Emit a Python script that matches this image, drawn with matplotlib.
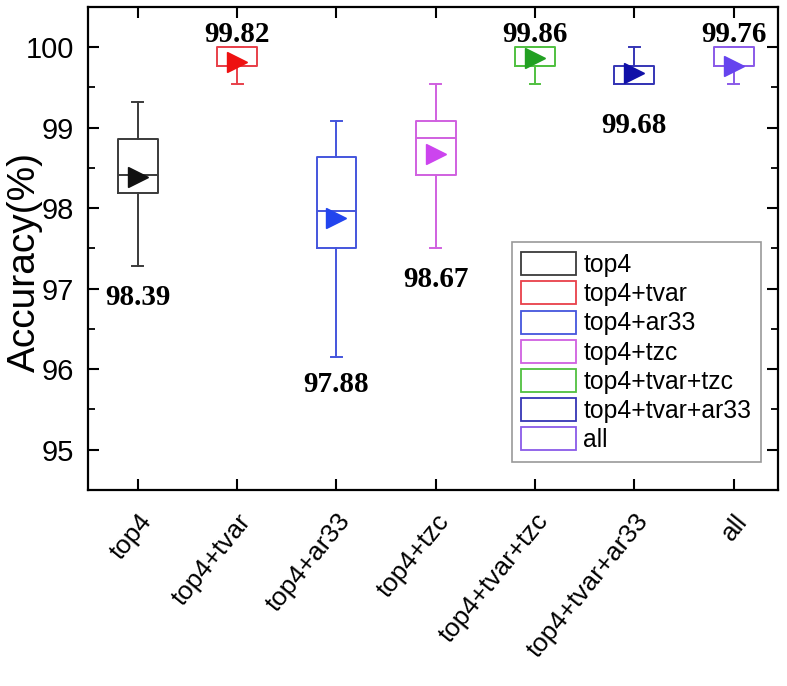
import matplotlib
matplotlib.use("Agg")
import matplotlib.pyplot as plt
from matplotlib.patches import Patch
from matplotlib.ticker import MultipleLocator

# feature sets and box statistics (accuracy, %)
groups = ["top4", "top4+tvar", "top4+ar33", "top4+tzc",
          "top4+tvar+tzc", "top4+tvar+ar33", "all"]
whisker_hi = [99.32, 100.00, 99.08, 99.54, 100.00, 100.00, 100.00]
box_q3 = [98.86, 100.00, 98.63, 99.08, 100.00, 99.77, 100.00]
medians = [98.41, 99.77, 97.96, 98.87, 99.77, 99.54, 99.77]
box_q1 = [98.19, 99.77, 97.50, 98.41, 99.77, 99.54, 99.77]
whisker_lo = [97.28, 99.54, 96.15, 97.50, 99.54, 99.54, 99.54]
means = [98.39, 99.82, 97.88, 98.67, 99.86, 99.68, 99.76]
label_side = ["below", "above", "below", "below", "above", "below", "above"]

edge_colors = ["#3a3a3a", "#e8404a", "#4455dd", "#d060e0", "#50c040", "#3535b5", "#8a5ae8"]
mean_colors = ["#111111", "#ee1111", "#2244ee", "#cc44ee", "#22a022", "#1010a8", "#6644ee"]

plt.rcParams["font.family"] = ["Liberation Sans", "DejaVu Sans"]

fig = plt.figure(figsize=(7.87, 6.86), dpi=100)
ax = fig.add_axes([0.112, 0.286, 0.877, 0.704])

stats = []
for i, g in enumerate(groups):
    stats.append(dict(label=g, whislo=whisker_lo[i], q1=box_q1[i], med=medians[i],
                      q3=box_q3[i], whishi=whisker_hi[i], mean=means[i], fliers=[]))

positions = list(range(1, len(groups) + 1))
for i, st in enumerate(stats):
    c = edge_colors[i]
    ax.bxp([st], positions=[positions[i]], widths=0.4, showmeans=False,
           showfliers=False, patch_artist=False,
           boxprops=dict(color=c, linewidth=1.4),
           whiskerprops=dict(color=c, linewidth=1.4),
           capprops=dict(color=c, linewidth=1.4),
           medianprops=dict(color=c, linewidth=1.4),
           capwidths=0.11)
    ax.plot(positions[i], means[i], marker=">", markersize=15, color=mean_colors[i],
            linestyle="none", zorder=5)

# mean value labels
below_gap = [13, 0, 10, 13, 0, 20, 0]
for i, m in enumerate(means):
    if label_side[i] == "above":
        ax.annotate(f"{m:.2f}", (positions[i], box_q3[i]), xytext=(0, 4),
                    textcoords="offset points", ha="center", va="baseline",
                    fontsize=21, fontweight="bold", family="Liberation Serif")
    else:
        ax.annotate(f"{m:.2f}", (positions[i], whisker_lo[i]), xytext=(0, -below_gap[i]),
                    textcoords="offset points", ha="center", va="top",
                    fontsize=21, fontweight="bold", family="Liberation Serif")

ax.set_xlim(0.5, 7.45)
ax.set_ylim(94.5, 100.5)
ax.set_xticks(positions)
ax.set_xticklabels(groups, rotation=51, ha="right", rotation_mode="anchor", fontsize=18.8)
ax.set_yticks([95, 96, 97, 98, 99, 100])
ax.yaxis.set_minor_locator(MultipleLocator(0.5))
ax.tick_params(axis="y", labelsize=21, pad=10)
ax.tick_params(which="major", direction="in", length=8, width=1.5,
               top=True, right=True)
ax.tick_params(which="minor", direction="in", length=5, width=1.3, right=True)
ax.tick_params(axis="x", which="minor", bottom=False, top=False)
ax.tick_params(axis="x", pad=14)
for s in ax.spines.values():
    s.set_linewidth(1.6)

ax.set_ylabel("Accuracy(%)", fontsize=28)
ax.yaxis.set_label_coords(-0.065, 0.472)

handles = [Patch(facecolor="white", edgecolor=c, linewidth=1.3, label=g)
           for g, c in zip(groups, edge_colors)]
leg = ax.legend(handles=handles, loc="lower right", bbox_to_anchor=(0.975, 0.058),
                borderaxespad=0, fontsize=17.8, handlelength=2.2, handleheight=1.05,
                labelspacing=0.17, handletextpad=0.3, borderpad=0.4,
                fancybox=False, framealpha=1)
leg.get_frame().set_edgecolor("#999999")
leg.get_frame().set_linewidth(1.2)

fig.savefig("out.png", dpi=100)
